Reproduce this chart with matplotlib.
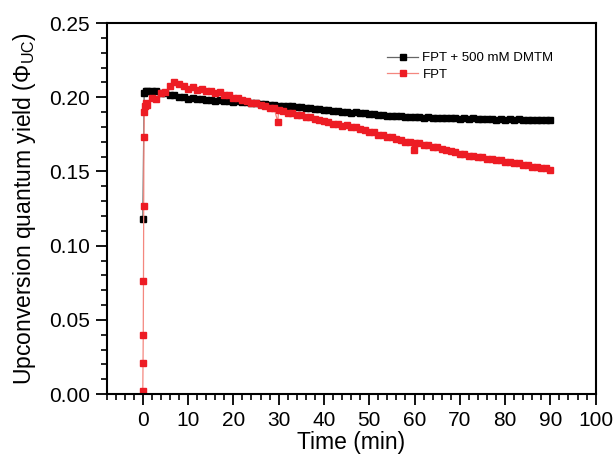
import numpy as np
import matplotlib
matplotlib.use("Agg")
import matplotlib.pyplot as plt
from matplotlib.ticker import MultipleLocator, FormatStrFormatter

plt.rcParams['font.family'] = ['Liberation Sans', 'DejaVu Sans']
plt.rcParams['mathtext.fontset'] = 'custom'
plt.rcParams['mathtext.rm'] = 'Liberation Sans'
plt.rcParams['mathtext.it'] = 'Liberation Sans:italic'

# sample times (min) for the regular part of both runs
minutes = list(range(1, 91))

# FPT + 500 mM DMTM (black)
dmtm_early_t = [0.0, 0.3, 0.6]
dmtm_early_y = [0.118, 0.2032, 0.2040]
dmtm_y = [0.2045, 0.2040, 0.2040, 0.2030, 0.2027, 0.2016, 0.2013, 0.2003, 0.1999, 0.1991,
          0.1992, 0.1986, 0.1988, 0.1982, 0.1984, 0.1978, 0.1980, 0.1974, 0.1976, 0.1970,
          0.1972, 0.1966, 0.1968, 0.1961, 0.1962, 0.1955, 0.1956, 0.1949, 0.1950, 0.1943,
          0.1944, 0.1938, 0.1939, 0.1933, 0.1934, 0.1927, 0.1928, 0.1921, 0.1922, 0.1915,
          0.1916, 0.1909, 0.1910, 0.1903, 0.1904, 0.1897, 0.1898, 0.1891, 0.1892, 0.1885,
          0.1886, 0.1879, 0.1881, 0.1875, 0.1877, 0.1871, 0.1873, 0.1867, 0.1869, 0.1864,
          0.1867, 0.1862, 0.1865, 0.1860, 0.1863, 0.1858, 0.1862, 0.1857, 0.1860, 0.1856,
          0.1859, 0.1854, 0.1858, 0.1853, 0.1856, 0.1852, 0.1855, 0.1850, 0.1854, 0.1849,
          0.1852, 0.1848, 0.1851, 0.1846, 0.1850, 0.1845, 0.1849, 0.1844, 0.1848, 0.1845]

# FPT (red)
fpt_early_t = [0.0, 0.05, 0.1, 0.15, 0.2, 0.25, 0.35, 0.5, 0.75]
fpt_early_y = [0.002, 0.021, 0.040, 0.076, 0.127, 0.173, 0.190, 0.194, 0.196]
fpt_y = [0.1950, 0.1995, 0.1990, 0.2030, 0.2035, 0.2075, 0.2105, 0.2092, 0.2075, 0.2055,
         0.2068, 0.2048, 0.2055, 0.2040, 0.2045, 0.2030, 0.2035, 0.2018, 0.2015, 0.1998,
         0.1998, 0.1982, 0.1978, 0.1962, 0.1960, 0.1945, 0.1944, 0.1930, 0.1925, 0.1912,
         0.1910, 0.1897, 0.1895, 0.1882, 0.1880, 0.1867, 0.1864, 0.1852, 0.1850, 0.1837,
         0.1833, 0.1820, 0.1820, 0.1809, 0.1810, 0.1800, 0.1797, 0.1783, 0.1780, 0.1767,
         0.1764, 0.1749, 0.1747, 0.1734, 0.1730, 0.1717, 0.1714, 0.1700, 0.1697, 0.1690,
         0.1692, 0.1679, 0.1677, 0.1665, 0.1662, 0.1649, 0.1647, 0.1635, 0.1632, 0.1619,
         0.1617, 0.1607, 0.1607, 0.1597, 0.1597, 0.1587, 0.1587, 0.1577, 0.1577, 0.1565,
         0.1564, 0.1554, 0.1554, 0.1543, 0.1542, 0.1532, 0.1532, 0.1522, 0.1521, 0.1512]
fpt_outlier_t = [29.8, 59.8]
fpt_outlier_y = [0.1835, 0.1645]

x_ticks = [0, 10, 20, 30, 40, 50, 60, 70, 80, 90, 100]
y_ticks = [0.00, 0.05, 0.10, 0.15, 0.20, 0.25]


def merge(t_early, y_early, t_main, y_main, t_extra=(), y_extra=()):
    t = np.array(list(t_early) + list(t_main) + list(t_extra), dtype=float)
    y = np.array(list(y_early) + list(y_main) + list(y_extra), dtype=float)
    order = np.argsort(t, kind='stable')
    return t[order], y[order]


t_black, y_black = merge(dmtm_early_t, dmtm_early_y, minutes, dmtm_y)
t_red, y_red = merge(fpt_early_t, fpt_early_y, minutes, fpt_y, fpt_outlier_t, fpt_outlier_y)

red = '#ed1c24'

fig = plt.figure(figsize=(6.16, 4.61), dpi=100)
ax = fig.add_axes([0.173, 0.145, 0.794, 0.805])

ax.plot(t_black, y_black, color='#666666', lw=0.9, marker='s', ms=5.0,
        mfc='black', mec='black', label='FPT + 500 mM DMTM')
ax.plot(t_red, y_red, color='#f4877f', lw=0.9, marker='s', ms=5.0,
        mfc=red, mec=red, label='FPT')

ax.set_xlim(-8, 100)
ax.set_ylim(0, 0.25)
ax.set_xticks(x_ticks)
ax.set_yticks(y_ticks)
ax.xaxis.set_minor_locator(MultipleLocator(2))
ax.yaxis.set_minor_locator(MultipleLocator(0.01))
ax.yaxis.set_major_formatter(FormatStrFormatter('%.2f'))

for s in ax.spines.values():
    s.set_linewidth(1.5)
ax.tick_params(which='major', direction='out', length=8, width=1.3, labelsize=15, pad=4,
               top=False, right=False)
ax.tick_params(which='minor', direction='out', length=4.5, width=1.2, top=False, right=False)

ax.set_xlabel('Time (min)', fontsize=16.5, labelpad=1)
ax.set_ylabel(r'Upconversion quantum yield ($\Phi_{\mathrm{UC}}$)', fontsize=16.5, labelpad=8)

ax.legend(loc='upper left', bbox_to_anchor=(0.573, 0.922), frameon=False, fontsize=9.5,
          handlelength=2.4, handletextpad=0.3, labelspacing=0.35, borderpad=0,
          borderaxespad=0, markerscale=0.75)

fig.savefig('out.png', dpi=100)
